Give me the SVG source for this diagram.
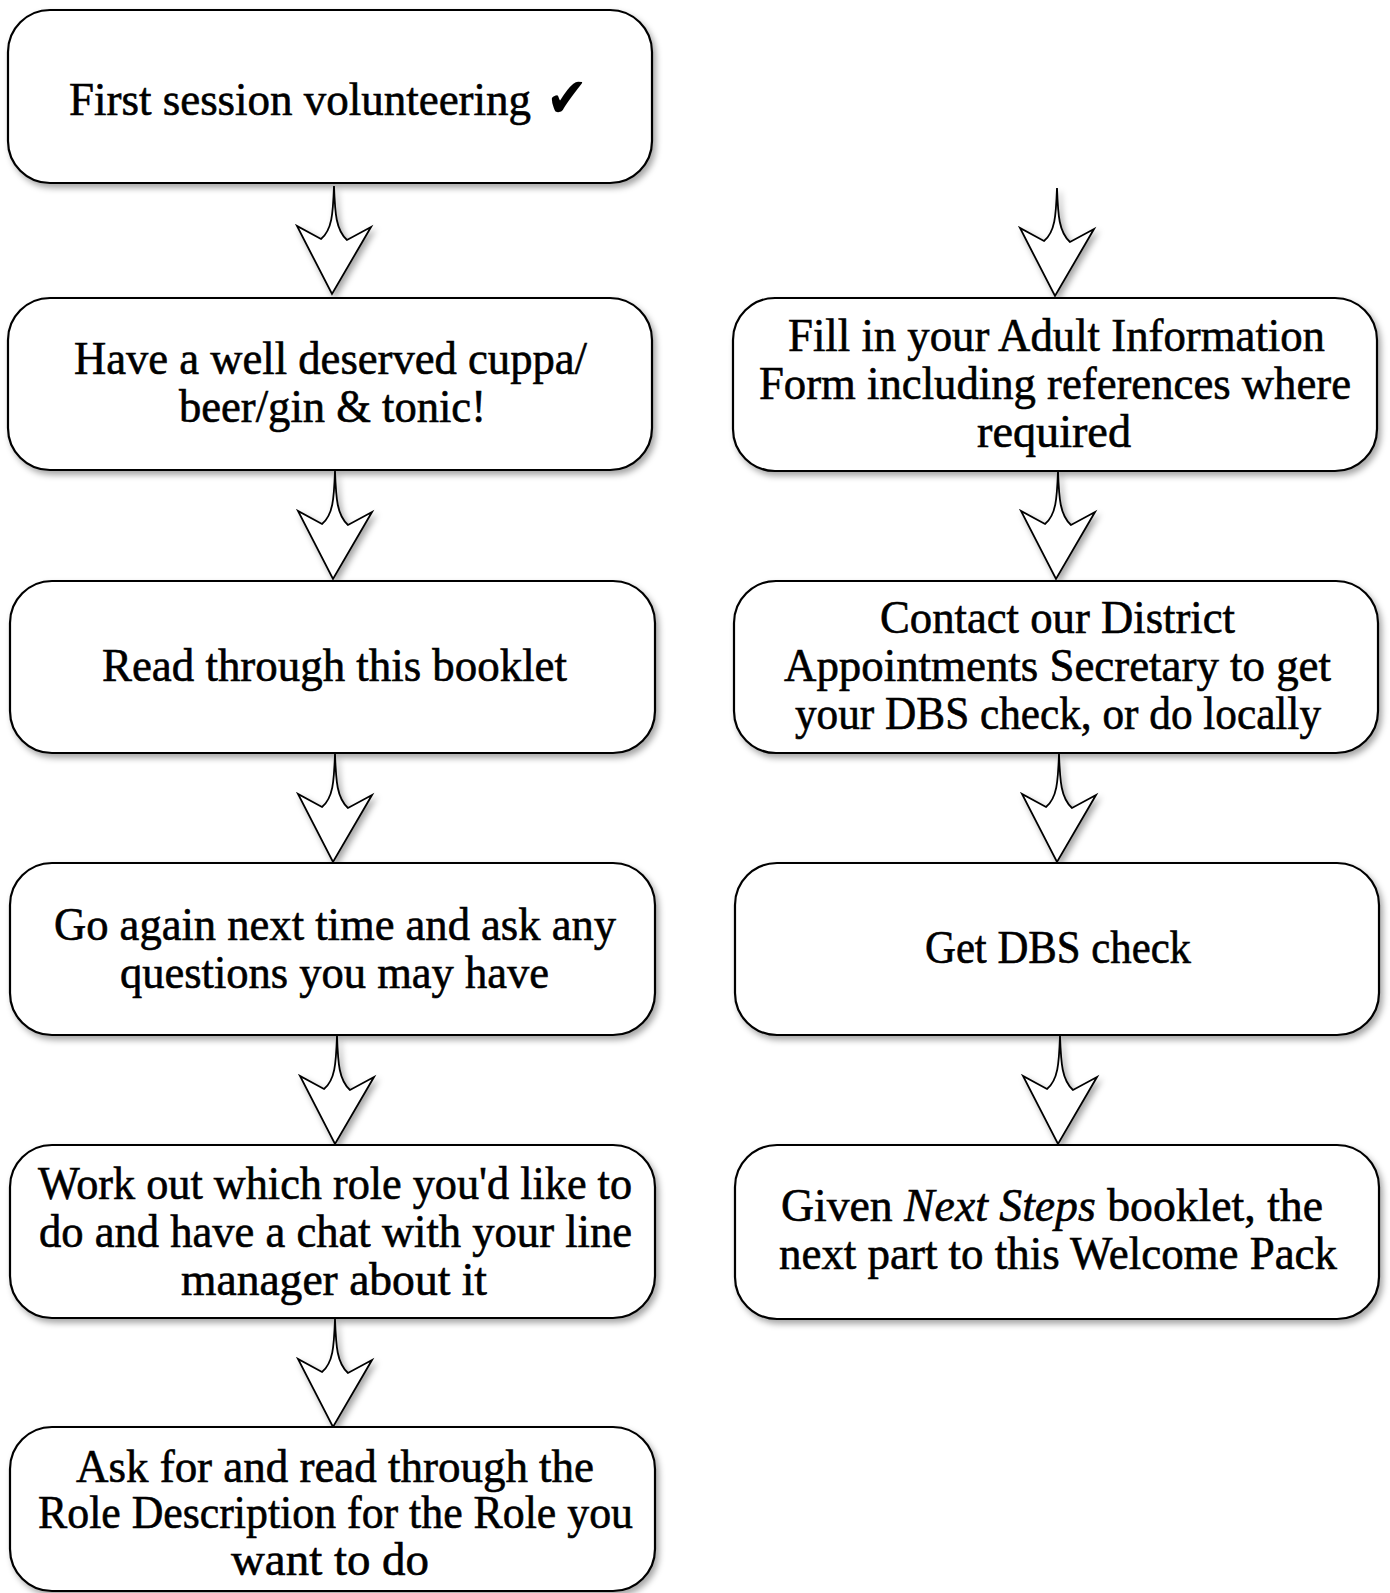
<svg xmlns="http://www.w3.org/2000/svg" width="1390" height="1593" viewBox="0 0 1390 1593">
<style>
.box{fill:#fff;stroke:#000;stroke-width:2.2;filter:url(#sh)}
.arr{fill:#fff;stroke:#000;stroke-width:1.8;stroke-linejoin:miter;filter:url(#sh)}
.t{font-family:"Liberation Serif","Times New Roman",serif;font-size:46px;fill:#000;stroke:#000;stroke-width:0.6}
.chk{font-family:"DejaVu Sans",sans-serif;font-weight:bold;font-size:56px;fill:#000}
</style>
<defs>
<filter id="sh" x="-10%" y="-10%" width="130%" height="130%">
<feDropShadow dx="3" dy="4" stdDeviation="3" flood-color="#000" flood-opacity="0.35"/>
</filter>
<path id="a" d="M0,0 C-1,28 -2,44 -13,53 L-37,40 L-2,108 L37,41 L13,54 C2,44 1,28 0,0 Z"/>
</defs>
<rect width="1390" height="1593" fill="#fff"/>
<g id="connectors">
<use href="#a" class="arr" x="334" y="186"/>
<use href="#a" class="arr" x="335" y="471"/>
<use href="#a" class="arr" x="335" y="754"/>
<use href="#a" class="arr" x="337" y="1036"/>
<use href="#a" class="arr" x="335" y="1319"/>
<use href="#a" class="arr" x="1057" y="188"/>
<use href="#a" class="arr" x="1058" y="471"/>
<use href="#a" class="arr" x="1059" y="754"/>
<use href="#a" class="arr" x="1060" y="1036"/>
</g>
<g id="n1">
<rect class="box" x="8" y="10" width="644" height="173" rx="42" ry="42"/>
<text class="t" x="69" y="115" textLength="462" lengthAdjust="spacingAndGlyphs">First session volunteering</text>
<text class="chk" x="546" y="117" textLength="42" lengthAdjust="spacingAndGlyphs">✔</text>
</g>
<g id="n2">
<rect class="box" x="8" y="298" width="644" height="172" rx="42" ry="42"/>
<text class="t" x="74" y="374" textLength="513" lengthAdjust="spacingAndGlyphs">Have a well deserved cuppa/</text>
<text class="t" x="179" y="422" textLength="307" lengthAdjust="spacingAndGlyphs">beer/gin &amp; tonic!</text>
</g>
<g id="n3">
<rect class="box" x="10" y="581" width="645" height="172" rx="42" ry="42"/>
<text class="t" x="102" y="681" textLength="465" lengthAdjust="spacingAndGlyphs">Read through this booklet</text>
</g>
<g id="n4">
<rect class="box" x="10" y="863" width="645" height="172" rx="42" ry="42"/>
<text class="t" x="54" y="940" textLength="562" lengthAdjust="spacingAndGlyphs">Go again next time and ask any</text>
<text class="t" x="120" y="988" textLength="429" lengthAdjust="spacingAndGlyphs">questions you may have</text>
</g>
<g id="n5">
<rect class="box" x="10" y="1145" width="645" height="173" rx="42" ry="42"/>
<text class="t" x="38" y="1199" textLength="594" lengthAdjust="spacingAndGlyphs">Work out which role you'd like to</text>
<text class="t" x="39" y="1247" textLength="593" lengthAdjust="spacingAndGlyphs">do and have a chat with your line</text>
<text class="t" x="181" y="1295" textLength="306" lengthAdjust="spacingAndGlyphs">manager about it</text>
</g>
<g id="n6">
<rect class="box" x="10" y="1427" width="645" height="164" rx="42" ry="42"/>
<text class="t" x="76" y="1482" textLength="518" lengthAdjust="spacingAndGlyphs">Ask for and read through the</text>
<text class="t" x="38" y="1528" textLength="595" lengthAdjust="spacingAndGlyphs">Role Description for the Role you</text>
<text class="t" x="231" y="1575" textLength="198" lengthAdjust="spacingAndGlyphs">want to do</text>
</g>
<g id="r1">
<rect class="box" x="733" y="298" width="644" height="173" rx="42" ry="42"/>
<text class="t" x="788" y="351" textLength="537" lengthAdjust="spacingAndGlyphs">Fill in your Adult Information</text>
<text class="t" x="759" y="399" textLength="592" lengthAdjust="spacingAndGlyphs">Form including references where</text>
<text class="t" x="977" y="447" textLength="154" lengthAdjust="spacingAndGlyphs">required</text>
</g>
<g id="r2">
<rect class="box" x="734" y="581" width="644" height="172" rx="42" ry="42"/>
<text class="t" x="880" y="633" textLength="355" lengthAdjust="spacingAndGlyphs">Contact our District</text>
<text class="t" x="784" y="681" textLength="547" lengthAdjust="spacingAndGlyphs">Appointments Secretary to get</text>
<text class="t" x="795" y="729" textLength="526" lengthAdjust="spacingAndGlyphs">your DBS check, or do locally</text>
</g>
<g id="r3">
<rect class="box" x="735" y="863" width="644" height="172" rx="42" ry="42"/>
<text class="t" x="925" y="963" textLength="266" lengthAdjust="spacingAndGlyphs">Get DBS check</text>
</g>
<g id="r4">
<rect class="box" x="735" y="1145" width="644" height="174" rx="42" ry="42"/>
<text class="t" x="781" y="1221" textLength="542" lengthAdjust="spacingAndGlyphs">Given <tspan font-style="italic">Next Steps</tspan> booklet, the</text>
<text class="t" x="779" y="1269" textLength="558" lengthAdjust="spacingAndGlyphs">next part to this Welcome Pack</text>
</g>
</svg>
